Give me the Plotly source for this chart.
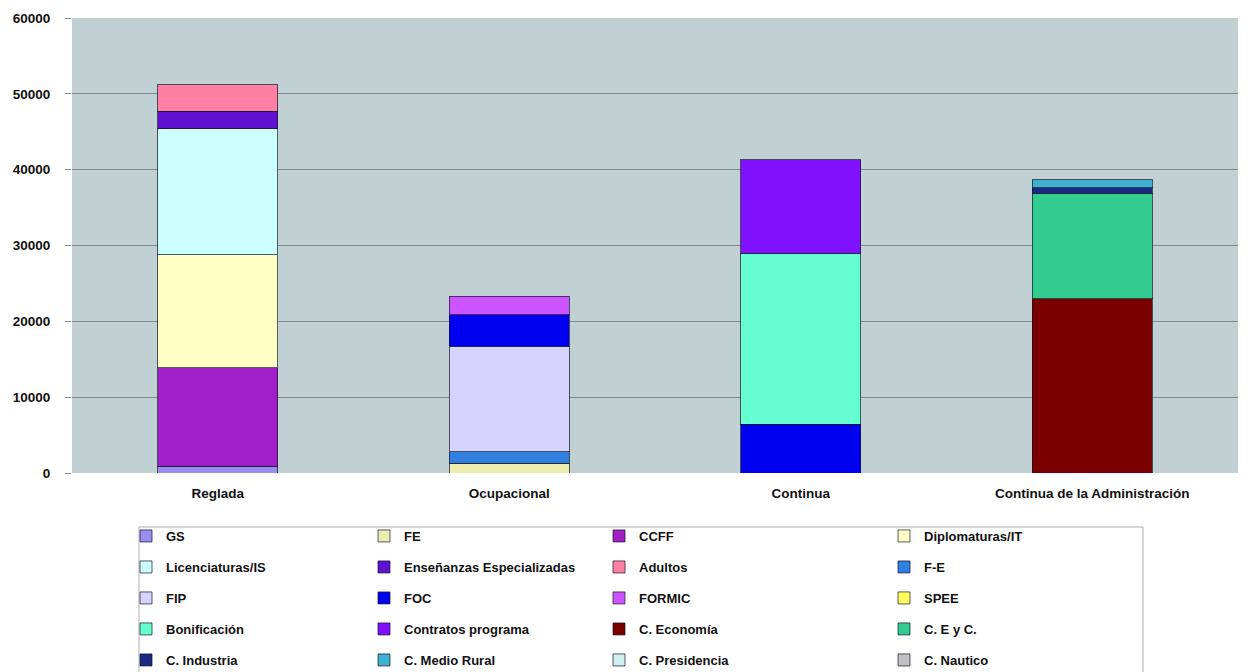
import plotly.graph_objects as go

categories = ["Reglada", "Ocupacional", "Continua", "Continua de la Administración"]

series_names = [
    "GS", "FE", "CCFF", "Diplomaturas/IT",
    "Licenciaturas/IS", "Enseñanzas Especializadas", "Adultos", "F-E",
    "FIP", "FOC", "FORMIC", "SPEE",
    "Bonificación", "Contratos programa", "C. Economía", "C. E y C.",
    "C. Industria", "C. Medio Rural", "C. Presidencia", "C. Nautico",
]

# values per category: Reglada, Ocupacional, Continua, Continua de la Administración
gs = [900, None, None, None]
fe = [None, 1300, None, None]
ccff = [13000, None, None, None]
diplomaturas = [14900, None, None, None]
licenciaturas = [16600, None, None, None]
ensenanzas = [2300, None, None, None]
adultos = [3500, None, None, None]
f_e = [None, 1500, None, None]
fip = [None, 13900, None, None]
foc = [None, 4200, 6400, None]
formic = [None, 2400, None, None]
spee = [None, None, None, None]
bonificacion = [None, None, 22600, None]
contratos = [None, None, 12300, None]
c_economia = [None, None, None, 23000]
c_eyc = [None, None, None, 13900]
c_industria = [None, None, None, 700]
c_medio_rural = [None, None, None, 1100]
c_presidencia = [None, None, None, None]
c_nautico = [None, None, None, None]

series_values = [
    gs, fe, ccff, diplomaturas,
    licenciaturas, ensenanzas, adultos, f_e,
    fip, foc, formic, spee,
    bonificacion, contratos, c_economia, c_eyc,
    c_industria, c_medio_rural, c_presidencia, c_nautico,
]

colors = [
    "#9B8CF0", "#ECECAE", "#A020C8", "#FFFFC4",
    "#CCFFFF", "#6010D0", "#FF80A4", "#3080E0",
    "#D4D4FF", "#0000F0", "#CC55FF", "#FFFF60",
    "#66FFD0", "#8010FF", "#7A0000", "#33CC90",
    "#1A2A80", "#40B0D0", "#D0F0F0", "#C0C0C0",
]

font_family = "Liberation Sans, Arial, sans-serif"
# legend column widths (px), uneven like the original
column_widths = [193, 190, 240, 200]

# the page body adds an 8px margin, so the figure is drawn 8px smaller
# and all target positions below are given in window pixels minus that offset
PAGE_OFFSET = 8
fig_w, fig_h = 1251 - PAGE_OFFSET, 672 - PAGE_OFFSET
plot_left, plot_right = 72 - PAGE_OFFSET, 1238 - PAGE_OFFSET
plot_top, plot_bottom = 18 - PAGE_OFFSET, 473 - PAGE_OFFSET
plot_width = plot_right - plot_left
plot_height = plot_bottom - plot_top

fig = go.Figure()
for i, (name, vals, color) in enumerate(zip(series_names, series_values, colors)):
    row, col = divmod(i, 4)
    legend_id = "legend" if row == 0 else f"legend{row + 1}"
    fig.add_trace(
        go.Bar(
            x=categories,
            y=vals,
            name=name,
            marker={"color": color, "line": {"color": "rgba(20,20,40,0.7)", "width": 1}},
            legend=legend_id,
            legendwidth=column_widths[col],
        )
    )

# legend rows, one legend per row so the row spacing matches the original
row_centers = [536, 567, 598, 629, 660]
legend_layout = {}
for r, cy in enumerate(row_centers):
    key = "legend" if r == 0 else f"legend{r + 1}"
    legend_layout[key] = {
        "orientation": "h",
        "x": (126 - PAGE_OFFSET - plot_left) / plot_width,
        "xanchor": "left",
        "y": (plot_bottom - (cy - PAGE_OFFSET)) / plot_height,
        "yanchor": "middle",
        "bgcolor": "rgba(0,0,0,0)",
        "borderwidth": 0,
        "font": {"family": font_family, "size": 13, "color": "#111111", "weight": "bold"},
        "traceorder": "normal",
    }

fig.update_layout(
    width=fig_w,
    height=fig_h,
    barmode="stack",
    bargap=0.59,
    paper_bgcolor="white",
    plot_bgcolor="#C0D0D3",
    margin={
        "l": plot_left,
        "r": fig_w - plot_right,
        "t": plot_top,
        "b": fig_h - plot_bottom,
        "autoexpand": False,
    },
    font={"family": font_family, "size": 13, "color": "#111111"},
    **legend_layout,
)

tick_font = {"family": font_family, "size": 13.5, "color": "#111111", "weight": "bold"}
fig.update_xaxes(
    showgrid=False,
    automargin=False,
    tickfont=tick_font,
    ticklabelstandoff=10,
    showline=False,
)
fig.update_yaxes(
    range=[0, 60000],
    dtick=10000,
    tickformat="d",
    automargin=False,
    showgrid=True,
    gridcolor="#7E8B8D",
    gridwidth=1,
    zeroline=False,
    ticks="outside",
    ticklen=6,
    tickcolor="#7E8B8D",
    ticklabelstandoff=12,
    tickfont=tick_font,
)

# legend frame
fig.add_shape(
    type="rect",
    xref="paper",
    yref="paper",
    x0=(139 - PAGE_OFFSET - plot_left) / plot_width,
    x1=(1143 - PAGE_OFFSET - plot_left) / plot_width,
    y0=(plot_bottom - (527 - PAGE_OFFSET)) / plot_height,
    y1=(plot_bottom - (700 - PAGE_OFFSET)) / plot_height,
    line={"color": "#B0B0B0", "width": 1},
    fillcolor="rgba(0,0,0,0)",
    layer="below",
)

fig.write_html("out.html")
